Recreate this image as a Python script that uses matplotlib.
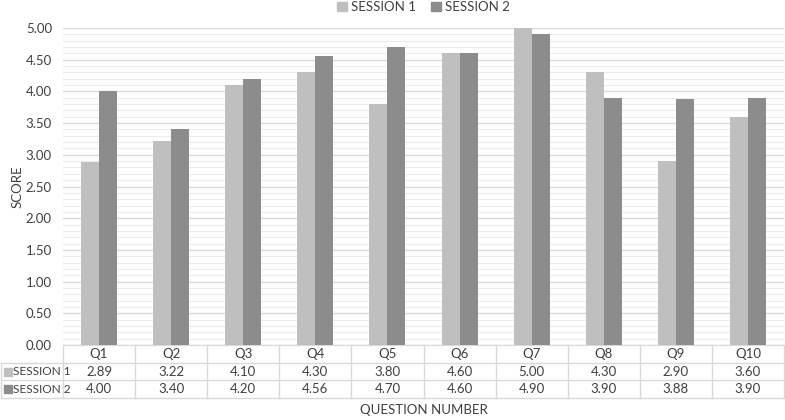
import matplotlib
matplotlib.use("Agg")
import matplotlib.pyplot as plt
from matplotlib.transforms import blended_transform_factory
from matplotlib.patches import Patch
import numpy as np

categories = ["Q1", "Q2", "Q3", "Q4", "Q5", "Q6", "Q7", "Q8", "Q9", "Q10"]
session1 = [2.89, 3.22, 4.10, 4.30, 3.80, 4.60, 5.00, 4.30, 2.90, 3.60]
session2 = [4.00, 3.40, 4.20, 4.56, 4.70, 4.60, 4.90, 3.90, 3.88, 3.90]
series_names = ["SESSION 1", "SESSION 2"]
colors = ["#bfbfbf", "#8c8c8c"]

plt.rcParams['font.family'] = ['Lato', 'DejaVu Sans']
txt = "#404040"
gridc = "#d9d9d9"
fs = 9.5

fig = plt.figure(figsize=(7.85, 4.2), dpi=100)
W, H = 785, 420
left_px, right_px, top_px, bot_px = 63, 784, 28, 345
ax = fig.add_axes([left_px / W, 1 - bot_px / H, (right_px - left_px) / W, (bot_px - top_px) / H])

x = np.arange(len(categories))
bw = 0.25
ax.bar(x - bw / 2, session1, bw, color=colors[0], zorder=3)
ax.bar(x + bw / 2, session2, bw, color=colors[1], zorder=3)

ax.set_xlim(-0.5, len(categories) - 0.5)
ax.set_ylim(0, 5)
ax.set_yticks(np.arange(0, 5.01, 0.5))
ax.set_yticklabels([f"{v:.2f}" for v in np.arange(0, 5.01, 0.5)], color=txt, fontsize=fs)
ax.set_yticks(np.arange(0, 5.01, 0.1), minor=True)
ax.tick_params(axis='y', which='both', length=0, pad=8)
ax.set_xticks([])
ax.grid(axis='y', which='major', color=gridc, lw=1.0, zorder=0)
ax.grid(axis='y', which='minor', color="#ececec", lw=0.8, zorder=0)
for s in ["top", "right", "left"]:
    ax.spines[s].set_visible(False)
ax.spines["bottom"].set_color(gridc)

fig.text(18 / W, 1 - (top_px + bot_px) / 2 / H, "SCORE", rotation=90, ha='center', va='center',
         fontsize=fs, color=txt)

# data table
axh = bot_px - top_px
row_h = 17.7 / axh
trans = blended_transform_factory(ax.transData, ax.transAxes)
col_px = (right_px - left_px) / len(categories)
xleft = -0.5 - (left_px - 1) / col_px
for i in range(1, 4):
    y = -i * row_h
    ax.plot([xleft, len(categories) - 0.5], [y, y], color=gridc, lw=1, transform=trans, clip_on=False)
for k in range(len(categories) + 1):
    xv = k - 0.5
    ax.plot([xv, xv], [0, -3 * row_h], color=gridc, lw=1, transform=trans, clip_on=False)
ax.plot([xleft, xleft], [-row_h, -3 * row_h], color=gridc, lw=1, transform=trans, clip_on=False)

for k, c in enumerate(categories):
    ax.text(k, -0.5 * row_h, c, ha='center', va='center', fontsize=fs, color=txt, transform=trans)
    ax.text(k, -1.5 * row_h, f"{session1[k]:.2f}", ha='center', va='center', fontsize=fs, color=txt, transform=trans)
    ax.text(k, -2.5 * row_h, f"{session2[k]:.2f}", ha='center', va='center', fontsize=fs, color=txt, transform=trans)

for r, (name, col) in enumerate(zip(series_names, colors)):
    yc = -(1.5 + r) * row_h
    ax.plot([xleft + 7 / col_px], [yc], marker='s', ms=5.5, color=col, transform=trans, clip_on=False, ls='none')
    ax.text(xleft + 12 / col_px, yc, name, ha='left', va='center', fontsize=8.6, color=txt, transform=trans)

fig.text(0.5 * (left_px + right_px) / W, 1 - 410 / H, "QUESTION NUMBER", ha='center', va='center',
         fontsize=fs, color=txt)

handles = [Patch(color=c, label=n) for c, n in zip(colors, series_names)]
fig.legend(handles=handles, loc='center', bbox_to_anchor=(0.5 * (left_px + right_px) / W, 1 - 7 / H), ncol=2,
           frameon=False, fontsize=fs, handlelength=0.7, handleheight=0.7, handletextpad=0.3, columnspacing=1.2,
           labelcolor=txt)

fig.savefig("out.png", dpi=100)
